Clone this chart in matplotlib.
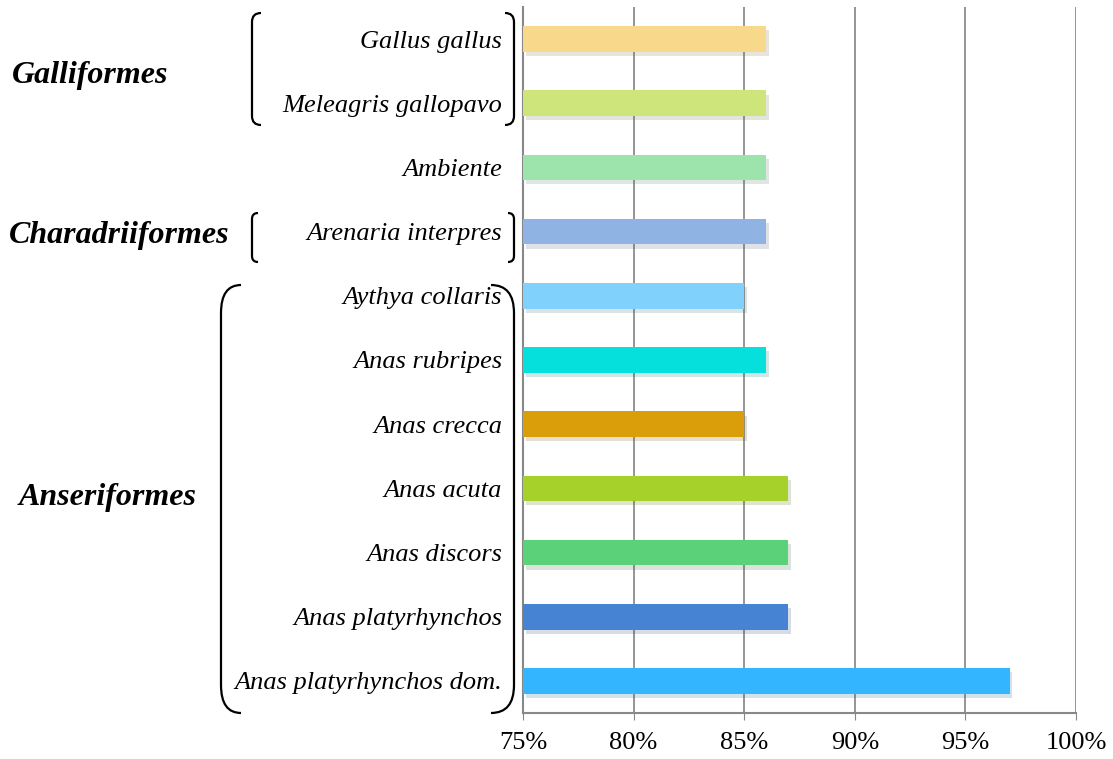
import numpy as np
import matplotlib
matplotlib.use('Agg')
import matplotlib.pyplot as plt
import matplotlib.patheffects as pe
from matplotlib.path import Path
from matplotlib.patches import PathPatch
from matplotlib.ticker import FuncFormatter

species = ['Gallus gallus', 'Meleagris gallopavo', 'Ambiente', 'Arenaria interpres',
           'Aythya collaris', 'Anas rubripes', 'Anas crecca', 'Anas acuta',
           'Anas discors', 'Anas platyrhynchos', 'Anas platyrhynchos dom.']
values = [86, 86, 86, 86, 85, 86, 85, 87, 87, 87, 97]
colors = ['#F8D98C', '#CDE57A', '#9DE3AC', '#8FB4E3', '#80D2FC', '#06E0DC',
          '#DA9E0A', '#A6D02A', '#5BD27A', '#4783D3', '#33B5FF']
xticks = [75, 80, 85, 90, 95, 100]

plt.rcParams['font.family'] = 'Liberation Serif'

W, H = 1113, 759
fig = plt.figure(figsize=(W / 100, H / 100), dpi=100)
ax = fig.add_axes([523 / W, 1 - 713 / H, (1076 - 523) / W, (713 - 7) / H])

ypos = np.arange(len(species))
bars = ax.barh(ypos, np.array(values) - 75, left=75, height=0.4, color=colors, zorder=3)
for b in bars:
    b.set_path_effects([pe.SimplePatchShadow(offset=(2, -3), alpha=0.18, rho=0.5), pe.Normal()])

ax.set_xlim(75, 100)
ax.set_ylim(len(species) - 0.5, -0.5)
ax.set_xticks(xticks)
ax.xaxis.set_major_formatter(FuncFormatter(lambda v, p: '%d%%' % v))
ax.set_yticks(ypos)
ax.set_yticklabels(species, style='italic', fontsize=19)
ax.tick_params(axis='y', length=0, pad=15)
ax.tick_params(axis='x', length=5, color='#888888', labelsize=19, pad=9)
ax.grid(axis='x', color='#8c8c8c', linewidth=1.3, zorder=0)
for s in ['top', 'right']:
    ax.spines[s].set_visible(False)
for s in ['left', 'bottom']:
    ax.spines[s].set_color('#888888')
    ax.spines[s].set_linewidth(1.5)


def fp(x, y):
    return (x / W, 1 - y / H)


def bracket(x, y0, y1, d, r, dx):
    # vertical line with curved hooks at both ends, d = side the hooks point to
    verts = [fp(x + d * dx, y0), fp(x, y0), fp(x, y0 + r),
             fp(x, y1 - r), fp(x, y1), fp(x + d * dx, y1)]
    codes = [Path.MOVETO, Path.CURVE3, Path.CURVE3, Path.LINETO, Path.CURVE3, Path.CURVE3]
    fig.patches.append(PathPatch(Path(verts, codes), fill=False, lw=1.6, ec='black',
                                 transform=fig.transFigure))


bracket(252, 13, 125, 1, 9, 9)
bracket(514, 13, 125, -1, 9, 9)
bracket(252, 213, 262, 1, 6, 6)
bracket(514, 213, 262, -1, 6, 6)
bracket(221, 285, 713, 1, 28, 20)
bracket(514, 285, 713, -1, 28, 23)

grp_style = dict(fontsize=23, fontweight='bold', style='italic', ha='center', va='center')
fig.text(*fp(90, 75), 'Galliformes', **grp_style)
fig.text(*fp(119, 236), 'Charadriiformes', **grp_style)
fig.text(*fp(108, 497), 'Anseriformes', **grp_style)

fig.savefig('out.png', dpi=100)
